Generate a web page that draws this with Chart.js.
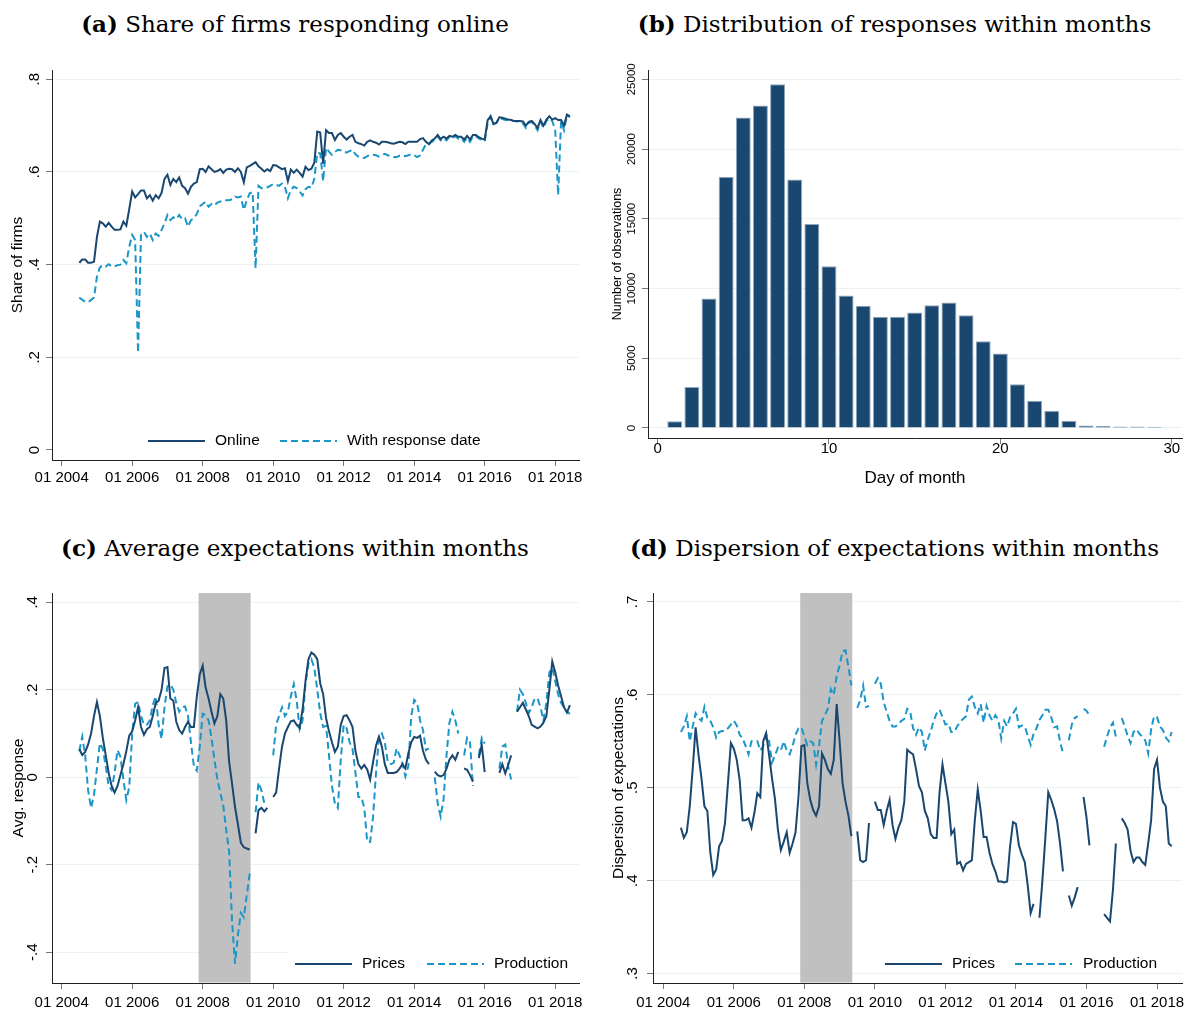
<!DOCTYPE html>
<html lang="en">
  <head>
    <meta charset="UTF-8" />
    <title>Survey responses</title>
    <style>
      body {
        margin: 0;
        background: #fff;
        width: 1189px;
        height: 1010px;
        position: relative;
        overflow: hidden;
      }
      .panel {
        position: absolute;
      }
      .title {
        position: absolute;
        text-align: center;
        font-family: "DejaVu Serif", serif;
        font-size: 23px;
        line-height: 23px;
        color: #000;
        white-space: nowrap;
      }
    </style>
    <script src="https://cdn.jsdelivr.net/npm/chart.js"></script>
  </head>
  <body>
    <div class="title" style="left: 0; top: 12px; width: 590px"><b>(a)</b> Share of firms responding online</div>
    <div class="title" style="left: 600px; top: 12px; width: 589px"><b>(b)</b> Distribution of responses within months</div>
    <div class="title" style="left: 0; top: 536px; width: 590px"><b>(c)</b> Average expectations within months</div>
    <div class="title" style="left: 600px; top: 536px; width: 589px"><b>(d)</b> Dispersion of expectations within months</div>

    <div class="panel" style="left: 0; top: 60px; width: 590px; height: 440px"><canvas id="chartA"></canvas></div>
    <div class="panel" style="left: 600px; top: 60px; width: 589px; height: 440px"><canvas id="chartB"></canvas></div>
    <div class="panel" style="left: 0; top: 580px; width: 590px; height: 430px"><canvas id="chartC"></canvas></div>
    <div class="panel" style="left: 600px; top: 580px; width: 589px; height: 430px"><canvas id="chartD"></canvas></div>

    <script>
      // months are counted from Jan 2004 (0); every series starts Jul 2004
      const firstMonth = 6;
      const yearTicks = [0, 24, 48, 72, 96, 120, 144, 168];
      const recession = [46.6, 64.3];

      // (a) share of firms responding online, Jul 2004 - Jun 2018
      const shareOnline = [
        0.404, 0.411, 0.411, 0.404, 0.404, 0.406,
        0.46, 0.493, 0.489, 0.482, 0.49, 0.482, 0.475, 0.475, 0.476, 0.493, 0.484, 0.52,
        0.558, 0.545, 0.552, 0.56, 0.56, 0.543, 0.55, 0.538, 0.55, 0.543, 0.555, 0.585,
        0.594, 0.572, 0.585, 0.578, 0.588, 0.57, 0.565, 0.553, 0.568, 0.575, 0.578, 0.606,
        0.607, 0.6, 0.612, 0.606, 0.6, 0.602, 0.606, 0.598, 0.605, 0.607, 0.606, 0.6,
        0.608, 0.6, 0.578, 0.61, 0.613, 0.617, 0.621, 0.612, 0.607, 0.601, 0.606, 0.602,
        0.615, 0.614, 0.61, 0.606, 0.608, 0.58, 0.605, 0.598, 0.605, 0.598, 0.59, 0.611,
        0.604, 0.607, 0.62, 0.687, 0.685, 0.618, 0.69, 0.684, 0.684, 0.669, 0.68, 0.684,
        0.676, 0.67, 0.676, 0.68, 0.665, 0.662, 0.66, 0.657, 0.665, 0.668, 0.665, 0.663,
        0.659, 0.665, 0.665, 0.664, 0.662, 0.661, 0.663, 0.665, 0.664, 0.66, 0.665, 0.665,
        0.665, 0.665, 0.671, 0.673, 0.665, 0.66, 0.668, 0.672, 0.68, 0.671, 0.676, 0.672,
        0.678, 0.676, 0.68, 0.676, 0.676, 0.67, 0.678, 0.67, 0.68, 0.68, 0.675, 0.672,
        0.67, 0.712, 0.72, 0.703, 0.706, 0.718, 0.717, 0.715, 0.713, 0.712, 0.71, 0.71,
        0.71, 0.709, 0.7, 0.708, 0.71, 0.703, 0.695, 0.712, 0.7, 0.713, 0.72, 0.713,
        0.716, 0.712, 0.712, 0.7, 0.724, 0.72
      ];
      const shareWithDate = [
        0.329, 0.324, 0.32, 0.319, 0.324, 0.329,
        0.374, 0.394, 0.399, 0.396, 0.401, 0.396, 0.396, 0.399, 0.4, 0.41, 0.403, 0.439,
        0.464, 0.453, 0.21, 0.464, 0.471, 0.46, 0.467, 0.453, 0.467, 0.462, 0.475, 0.489,
        0.507, 0.496, 0.502, 0.498, 0.507, 0.498, 0.5, 0.482, 0.496, 0.5, 0.509, 0.526,
        0.531, 0.536, 0.525, 0.531, 0.528, 0.534, 0.536, 0.536, 0.539, 0.539, 0.541, 0.547,
        0.545, 0.547, 0.518, 0.539, 0.554, 0.557, 0.392, 0.57, 0.565, 0.565, 0.567, 0.57,
        0.574, 0.572, 0.57, 0.575, 0.568, 0.543, 0.561, 0.568, 0.565, 0.558, 0.549, 0.563,
        0.568, 0.566, 0.585, 0.641, 0.64, 0.58, 0.652, 0.644, 0.637, 0.643, 0.648, 0.647,
        0.643, 0.642, 0.645, 0.648, 0.638, 0.633, 0.631, 0.63, 0.634, 0.637, 0.637, 0.636,
        0.633, 0.636, 0.639, 0.636, 0.634, 0.632, 0.632, 0.635, 0.636, 0.634, 0.636, 0.638,
        0.636, 0.632, 0.636, 0.648, 0.66, 0.66, 0.665, 0.669, 0.676, 0.668, 0.673, 0.668,
        0.676, 0.673, 0.677, 0.672, 0.673, 0.665, 0.674, 0.665, 0.677, 0.677, 0.672, 0.67,
        0.666, 0.705, 0.72, 0.704, 0.706, 0.716, 0.714, 0.712, 0.712, 0.71, 0.71, 0.709,
        0.71, 0.705, 0.695, 0.706, 0.708, 0.7, 0.69, 0.708, 0.695, 0.71, 0.716, 0.71,
        0.69, 0.55, 0.71, 0.69, 0.722, 0.718
      ];

      // (b) number of observations by day of month
      const days = [1, 2, 3, 4, 5, 6, 7, 8, 9, 10, 11, 12, 13, 14, 15, 16, 17, 18, 19, 20, 21, 22, 23, 24, 25, 26, 27, 28, 29];
      const obsPerDay = [
        480, 2940, 9280, 18010, 22270, 23130, 24640, 17820, 14620, 11600, 9500, 8760, 7970, 7970,
        8280, 8800, 8995, 8085, 6220, 5335, 3134, 1960, 1244, 526, 170, 145, 100, 100, 95
      ];

      // (c) average expectations
      const avgPrices = [
        0.064, 0.051, 0.058, 0.075, 0.1, 0.14,
        0.172, 0.14, 0.09, 0.05, 0.01, -0.02, -0.035, -0.02, 0.005, 0.03, 0.06, 0.095,
        0.105, 0.13, 0.16, 0.115, 0.097, 0.11, 0.115, 0.14, 0.17, 0.175, 0.2, 0.25,
        0.252, 0.18, 0.175, 0.127, 0.108, 0.1, 0.115, 0.127, 0.115, 0.115, 0.185, 0.235,
        0.255, 0.205, 0.18, 0.15, 0.123, 0.14, 0.19, 0.18, 0.13, 0.035, -0.015, -0.068,
        -0.108, -0.15, -0.16, -0.163, -0.165, null, -0.128, -0.075, -0.07, -0.078, -0.07, null,
        -0.045, -0.035, 0.02, 0.07, 0.1, 0.115, 0.128, 0.13, 0.12, 0.113, 0.155, 0.22,
        0.27, 0.285, 0.28, 0.27, 0.215, 0.19, 0.135, 0.105, 0.08, 0.058, 0.07, 0.12,
        0.14, 0.142, 0.13, 0.115, 0.06, 0.03, 0.02, 0.028, 0.018, -0.005, 0.035, 0.072,
        0.093, 0.07, 0.03, 0.01, 0.01, 0.01, 0.012, 0.02, 0.03, 0.02, 0.055, 0.08,
        0.092, 0.09, 0.095, 0.06, 0.04, 0.03, null, 0.013, 0.005, 0.002, 0.005, 0.02,
        0.04, 0.05, 0.04, 0.058, null, 0.02, 0.017, 0.005, -0.01, null, 0.044, 0.074,
        0.012, null, 0.013, null, null, 0.01, 0.03, 0.009, 0.028, 0.05, null, 0.15,
        0.16, 0.17, 0.155, 0.14, 0.12, 0.116, 0.112, 0.116, 0.125, 0.14, 0.2, 0.265,
        0.24, 0.21, 0.185, 0.16, 0.148, 0.165
      ];
      const avgProduction = [
        0.06, 0.093, 0.05, -0.03, -0.07, -0.04,
        0.02, 0.078, 0.065, 0.025, -0.02, -0.029, 0.01, 0.062, 0.047, -0.005, -0.052, -0.022,
        0.1, 0.168, 0.172, 0.14, 0.12, 0.12, 0.13, 0.165, 0.185, 0.12, 0.088, 0.16,
        0.208, 0.212, 0.2, 0.17, 0.15, 0.16, 0.162, 0.14, 0.08, 0.025, 0.015, 0.07,
        0.145, 0.142, 0.13, 0.09, 0.04, -0.005, -0.035, -0.065, -0.12, -0.17, -0.33, -0.426,
        -0.36, -0.31, -0.32, -0.27, -0.22, null, -0.08, -0.012, -0.03, -0.06, null, null,
        0.05, 0.12, 0.14, 0.16, 0.14, 0.15, 0.185, 0.213, 0.175, 0.11, 0.13, 0.215,
        0.26, 0.27, 0.25, 0.2, 0.147, 0.115, 0.117, 0.05, -0.02, -0.06, -0.07, 0.04,
        0.12, 0.112, 0.08, 0.065, 0.01, -0.045, -0.045, -0.07, -0.147, -0.148, -0.09, 0.01,
        0.09, 0.1, 0.08, 0.035, 0.03, 0.033, 0.066, 0.05, 0.032, 0.002, 0.025, 0.14,
        0.177, 0.17, 0.13, 0.108, 0.062, 0.066, null, 0.0, -0.06, -0.09, -0.05, 0.05,
        0.125, 0.15, 0.13, 0.1, null, 0.05, 0.09, 0.08, -0.02, null, 0.05, 0.09,
        0.077, null, null, null, null, 0.02, 0.07, 0.075, 0.025, -0.005, null, 0.15,
        0.2, 0.19, 0.17, 0.147, 0.16, 0.18, 0.18, 0.16, 0.13, 0.17, 0.24, 0.25,
        0.22, 0.19, 0.17, 0.16, 0.15, 0.145
      ];

      // (d) dispersion of expectations
      const dispPrices = [
        0.457, 0.446, 0.452, 0.48, 0.52, 0.565,
        0.535, 0.51, 0.48, 0.475, 0.43, 0.406, 0.412, 0.437, 0.443, 0.462, 0.505, 0.548,
        0.542, 0.53, 0.508, 0.465, 0.465, 0.467, 0.457, 0.473, 0.494, 0.49, 0.55, 0.559,
        0.535, 0.51, 0.488, 0.455, 0.433, 0.442, 0.452, 0.43, 0.44, 0.452, 0.49, 0.545,
        0.546, 0.505, 0.487, 0.476, 0.47, 0.48, 0.537, 0.53, 0.52, 0.515, 0.53, 0.59,
        0.55, 0.505, 0.485, 0.47, 0.448, null, 0.453, 0.422, 0.42, 0.422, 0.462, null,
        0.485, 0.476, 0.476, 0.46, 0.475, 0.487, 0.46, 0.445, 0.457, 0.465, 0.485, 0.541,
        0.538, 0.536, 0.52, 0.502, 0.495, 0.475, 0.467, 0.45, 0.446, 0.446, 0.495, 0.525,
        0.505, 0.485, 0.45, 0.455, 0.418, 0.42, 0.411, 0.418, 0.42, 0.422, 0.465, 0.498,
        0.475, 0.447, 0.447, 0.43, 0.418, 0.41, 0.399, 0.399, 0.398, 0.399, 0.437, 0.463,
        0.461, 0.438, 0.428, 0.42, 0.395, 0.365, 0.375, null, 0.36, 0.4, 0.446, 0.495,
        0.487, 0.477, 0.464, 0.44, 0.41, null, 0.384, 0.373, 0.382, 0.393, null, 0.49,
        0.468, 0.438, null, null, null, null, 0.364, 0.36, 0.356, 0.39, 0.44, null,
        0.467, 0.462, 0.455, 0.432, 0.42, 0.425, 0.425, 0.42, 0.417, 0.44, 0.465, 0.52,
        0.53, 0.5, 0.485, 0.48, 0.44, 0.437
      ];
      const dispProduction = [
        0.56, 0.566, 0.577, 0.55, 0.566, 0.58,
        0.575, 0.572, 0.587, 0.575, 0.572, 0.565, 0.554, 0.56, 0.561, 0.561, 0.564, 0.568,
        0.572, 0.567, 0.557, 0.553, 0.545, 0.536, 0.55, 0.55, 0.55, 0.54, 0.545, 0.557,
        0.55, 0.527, 0.535, 0.543, 0.54, 0.55, 0.54, 0.536, 0.545, 0.557, 0.564, 0.565,
        0.555, 0.546, 0.55, 0.548, 0.525, 0.545, 0.572, 0.578, 0.585, 0.606, 0.6, 0.62,
        0.632, 0.647, 0.648, 0.63, 0.61, null, 0.586, 0.594, 0.61, 0.587, 0.588, null,
        0.612, 0.618, 0.612, 0.592, 0.582, 0.572, 0.566, 0.566, 0.568, 0.572, 0.574, 0.585,
        0.582, 0.564, 0.557, 0.565, 0.56, 0.54, 0.552, 0.561, 0.572, 0.58, 0.584, 0.576,
        0.568, 0.569, 0.56, 0.56, 0.566, 0.571, 0.574, 0.577, 0.595, 0.598, 0.587, 0.58,
        0.59, 0.57, 0.588, 0.578, 0.572, 0.578, 0.573, 0.553, 0.572, 0.566, 0.576, 0.58,
        0.585, 0.565, 0.567, 0.566, 0.556, 0.546, 0.558, 0.564, 0.573, 0.578, 0.584, 0.584,
        0.576, 0.565, 0.566, 0.55, 0.537, null, 0.551, 0.568, 0.575, 0.577, null, 0.585,
        0.583, 0.578, null, null, null, null, 0.544, 0.555, 0.565, 0.57, 0.555, null,
        0.575, 0.566, 0.556, 0.548, 0.56, 0.563, 0.558, 0.555, 0.551, 0.537, 0.563, 0.577,
        0.576, 0.566, 0.562, 0.554, 0.55, 0.56
      ];

      const shareTicks = [0, 0.2, 0.4, 0.6, 0.8];
      const obsTicks = [0, 5000, 10000, 15000, 20000, 25000];
      const dayTicks = [0, 10, 20, 30];
      const avgTicks = [-0.4, -0.2, 0, 0.2, 0.4];
      const dispTicks = [0.3, 0.4, 0.5, 0.6, 0.7];

      const sans = '"Liberation Sans", Arial, sans-serif';
      const navy = "#1a476f";
      const blue = "#1b96c8";
      const dash = [7, 4];

      const monthLabel = (v) => "01 " + (2004 + v / 12);
      const stataNum = (v) => {
        if (v === 0) return "0";
        const s = String(Math.round(Math.abs(v) * 10) / 10).replace(/^0/, "");
        return (v < 0 ? "-" : "") + s;
      };

      // draws the Stata-like bits: shaded band, rotated labels, titles, legend
      const stataPlugin = {
        id: "stata",
        beforeDatasetsDraw(chart, args, o) {
          if (!o.band) return;
          const { ctx, chartArea: a } = chart;
          const x0 = chart.scales.x.getPixelForValue(o.band[0]);
          const x1 = chart.scales.x.getPixelForValue(o.band[1]);
          ctx.save();
          ctx.fillStyle = "#c0c0c0";
          ctx.fillRect(x0, a.top, x1 - x0, a.bottom - a.top - 0.5);
          ctx.restore();
        },
        afterDraw(chart, args, o) {
          const { ctx, chartArea: a } = chart;
          const { x, y } = chart.scales;
          ctx.save();
          ctx.fillStyle = "#000";
          ctx.textAlign = "center";
          ctx.textBaseline = "middle";

          ctx.font = "15px " + sans;
          x.ticks.forEach((t) => {
            ctx.fillText(o.xLabel(t.value), x.getPixelForValue(t.value), a.bottom + o.xOffset);
          });

          ctx.font = o.yFont + " " + sans;
          y.ticks.forEach((t) => {
            ctx.save();
            ctx.translate(a.left - o.yOffset, y.getPixelForValue(t.value));
            ctx.rotate(-Math.PI / 2);
            ctx.fillText(o.yLabel(t.value), 0, 0);
            ctx.restore();
          });

          ctx.font = o.yTitleFont + " " + sans;
          ctx.save();
          ctx.translate(o.yTitleX, (a.top + a.bottom) / 2);
          ctx.rotate(-Math.PI / 2);
          ctx.fillText(o.yTitle, 0, 0);
          ctx.restore();

          if (o.xTitle) {
            ctx.font = "17px " + sans;
            ctx.fillText(o.xTitle, (a.left + a.right) / 2, o.xTitleY);
          }

          if (o.legend) {
            const lg = o.legend;
            if (lg.box) {
              ctx.fillStyle = "#fff";
              ctx.fillRect(lg.box[0], lg.box[1], lg.box[2] - lg.box[0], lg.box[3] - lg.box[1]);
            }
            ctx.font = "15.5px " + sans;
            ctx.textAlign = "left";
            lg.items.forEach((it) => {
              ctx.save();
              ctx.strokeStyle = it.color;
              ctx.lineWidth = 2;
              ctx.setLineDash(it.dash || []);
              ctx.beginPath();
              ctx.moveTo(it.x0, lg.y);
              ctx.lineTo(it.x1, lg.y);
              ctx.stroke();
              ctx.restore();
              ctx.fillStyle = "#000";
              ctx.fillText(it.text, it.textX, lg.y);
            });
          }
          ctx.restore();
        },
      };

      const fixedTicks = (vals) => (s) => {
        s.ticks = vals.map((v) => ({ value: v }));
      };

      const yGrid = { color: "#eaf2f3", lineWidth: 1, drawTicks: true, tickLength: 6, tickColor: "#777" };
      const xGrid = { drawOnChartArea: false, drawTicks: true, tickLength: 6, tickColor: "#777" };
      const axisBorder = { display: true, color: "#222", width: 1 };

      const series = (vals) => vals.map((v, i) => ({ x: firstMonth + i, y: v }));

      function timeChart(id, cfg) {
        return new Chart(document.getElementById(id), {
          type: "line",
          data: {
            datasets: cfg.lines.map((l) => ({
              label: l.label,
              data: series(l.values),
              borderColor: l.color,
              borderWidth: 2,
              borderDash: l.dash || [],
              pointRadius: 0,
              tension: 0,
              spanGaps: false,
            })),
          },
          options: {
            animation: false,
            responsive: true,
            maintainAspectRatio: false,
            events: [],
            layout: { padding: { left: 0, right: cfg.padRight, top: cfg.padTop, bottom: 0 } },
            scales: {
              x: {
                type: "linear",
                min: cfg.xMin,
                max: cfg.xMax,
                afterBuildTicks: fixedTicks(yearTicks),
                afterFit: (s) => { s.height = cfg.xHeight; },
                ticks: { display: false },
                grid: xGrid,
                border: axisBorder,
              },
              y: {
                min: cfg.yMin,
                max: cfg.yMax,
                afterBuildTicks: fixedTicks(cfg.yTicks),
                afterFit: (s) => { s.width = cfg.yWidth; },
                ticks: { display: false },
                grid: yGrid,
                border: axisBorder,
              },
            },
            plugins: {
              legend: { display: false },
              tooltip: { enabled: false },
              stata: cfg.stata,
            },
          },
          plugins: [stataPlugin],
        });
      }

      timeChart("chartA", {
        lines: [
          { label: "Online", values: shareOnline, color: navy },
          { label: "With response date", values: shareWithDate, color: blue, dash: dash },
        ],
        xMin: -3.3, xMax: 176.1, yMin: -0.0216, yMax: 0.82, yTicks: shareTicks,
        padRight: 11, padTop: 10, xHeight: 40, yWidth: 52,
        stata: {
          xLabel: monthLabel, xOffset: 18,
          yLabel: stataNum, yFont: "15px", yOffset: 17,
          yTitle: "Share of firms", yTitleFont: "15.5px", yTitleX: 18,
          legend: {
            box: [53, 366, 578, 395],
            y: 381,
            items: [
              { x0: 148, x1: 205, textX: 215, text: "Online", color: navy },
              { x0: 280, x1: 337, textX: 347, text: "With response date", color: blue, dash: dash },
            ],
          },
        },
      });

      new Chart(document.getElementById("chartB"), {
        type: "bar",
        data: {
          datasets: [
            {
              label: "Number of observations",
              data: days.map((d, i) => ({ x: d, y: obsPerDay[i] })),
              backgroundColor: navy,
              borderColor: "#8fa6ba",
              borderWidth: 1,
              barPercentage: 0.87,
              categoryPercentage: 1,
            },
          ],
        },
        options: {
          animation: false,
          responsive: true,
          maintainAspectRatio: false,
          events: [],
          layout: { padding: { left: 0, right: 7, top: 10, bottom: 0 } },
          scales: {
            x: {
              type: "linear",
              offset: false,
              min: -0.56,
              max: 30.6,
              afterBuildTicks: fixedTicks(dayTicks),
              afterFit: (s) => { s.height = 62; },
              ticks: { display: false },
              grid: { ...xGrid, offset: false },
              border: axisBorder,
            },
            y: {
              min: -718,
              max: 25667,
              afterBuildTicks: fixedTicks(obsTicks),
              afterFit: (s) => { s.width = 48; },
              ticks: { display: false },
              grid: yGrid,
              border: axisBorder,
            },
          },
          plugins: {
            legend: { display: false },
            tooltip: { enabled: false },
            stata: {
              xLabel: (v) => String(v), xOffset: 11,
              yLabel: (v) => String(v), yFont: "11.5px", yOffset: 16,
              yTitle: "Number of observations", yTitleFont: "12.5px", yTitleX: 18,
              xTitle: "Day of month", xTitleY: 418,
            },
          },
        },
        plugins: [stataPlugin],
      });

      timeChart("chartC", {
        lines: [
          { label: "Prices", values: avgPrices, color: navy },
          { label: "Production", values: avgProduction, color: blue, dash: dash },
        ],
        xMin: -3.3, xMax: 176.1, yMin: -0.4703, yMax: 0.4213, yTicks: avgTicks,
        padRight: 11, padTop: 13, xHeight: 27, yWidth: 52,
        stata: {
          band: recession,
          xLabel: monthLabel, xOffset: 20,
          yLabel: stataNum, yFont: "15px", yOffset: 19,
          yTitle: "Avg. response", yTitleFont: "15.5px", yTitleX: 19,
          legend: {
            box: [288, 366, 578, 398],
            y: 384,
            items: [
              { x0: 295, x1: 352, textX: 362, text: "Prices", color: navy },
              { x0: 427, x1: 484, textX: 494, text: "Production", color: blue, dash: dash },
            ],
          },
        },
      });

      timeChart("chartD", {
        lines: [
          { label: "Prices", values: dispPrices, color: navy },
          { label: "Production", values: dispProduction, color: blue, dash: dash },
        ],
        xMin: -3.5, xMax: 176.5, yMin: 0.2898, yMax: 0.7096, yTicks: dispTicks,
        padRight: 7, padTop: 13, xHeight: 27, yWidth: 53,
        stata: {
          band: recession,
          xLabel: monthLabel, xOffset: 20,
          yLabel: stataNum, yFont: "15px", yOffset: 20,
          yTitle: "Dispersion of expectations", yTitleFont: "15.5px", yTitleX: 19,
          legend: {
            y: 384,
            items: [
              { x0: 285, x1: 342, textX: 352, text: "Prices", color: navy },
              { x0: 415, x1: 472, textX: 483, text: "Production", color: blue, dash: dash },
            ],
          },
        },
      });
    </script>
  </body>
</html>
